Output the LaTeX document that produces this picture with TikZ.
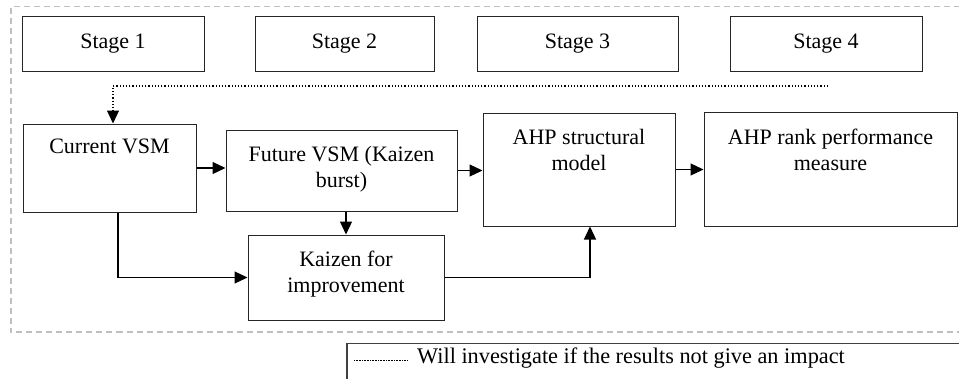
\documentclass[tikz,border=0pt]{standalone}
\usepackage{fontspec}
\setmainfont{Liberation Serif}
\usetikzlibrary{arrows.meta}
\tikzset{
  box/.style={draw=black!85, line width=1pt, rectangle, inner sep=0pt},
  txt/.style={anchor=north, inner sep=0pt, align=center, font=\fontsize{22}{26}\selectfont},
  tip/.style={-{Triangle[length=13pt,width=12pt]}},
  arr/.style={draw=black, line width=1.2pt, tip},
  frame/.style={draw=black!25, line width=1.3pt, dash pattern=on 6pt off 4pt},
}
\begin{document}
\begin{tikzpicture}[x=1pt,y=-1pt]
\useasboundingbox (0,0) rectangle (959,378);
% outer dashed frame
\draw[frame] (970,6.5) -- (11,6.5) -- (11,332) -- (970,332);
% stage boxes
\node[box, minimum width=182pt, minimum height=55pt] (s1) at (113,43.5) {\fontsize{22}{26}\selectfont Stage 1};
\node[box, minimum width=179pt, minimum height=55pt] (s2) at (344.5,43.5) {\fontsize{22}{26}\selectfont Stage 2};
\node[box, minimum width=201pt, minimum height=55pt] (s3) at (577.5,43.5) {\fontsize{22}{26}\selectfont Stage 3};
\node[box, minimum width=192pt, minimum height=55pt] (s4) at (826,43.5) {\fontsize{22}{26}\selectfont Stage 4};
% process boxes
\node[box, minimum width=173pt, minimum height=88pt] (cur) at (109.5,168) {};
\node[box, minimum width=231pt, minimum height=81pt] (fut) at (341.5,170.5) {};
\node[box, minimum width=196pt, minimum height=85pt] (kai) at (346,277.5) {};
\node[box, minimum width=192pt, minimum height=113pt] (str) at (579,169.5) {};
\node[box, minimum width=253pt, minimum height=114pt] (rnk) at (830.5,169) {};
% texts
\node[txt] (curt) at (109.5,139) {Current VSM};
\node[txt] (futt) at (341.5,146) {Future VSM (Kaizen\\burst)};
\node[txt] (kait) at (346,251) {Kaizen for\\improvement};
\node[txt] (strt) at (579,129.5) {AHP structural\\model};
\node[txt] (rnkt) at (830.5,128.5) {AHP rank performance\\measure};
% dotted feedback
\coordinate (dstart) at (828,86);
\draw[draw=black, line width=1.2pt, dotted, tip] (dstart) -| ([xshift=3.5pt]cur.north);
% connectors
\draw[arr] (cur.east) -- (cur.east -| fut.west);
\draw[arr] (fut.east) -- (fut.east -| str.west);
\draw[arr] (str.east) -- (str.east -| rnk.west);
\draw[arr] (fut.south -| kai.north) -- (kai.north);
\draw[arr] ([xshift=8.5pt]cur.south) |- (kai.west);
\draw[arr] (kai.east) -| ([xshift=11pt]str.south);
% legend box
\draw[draw=black!75, line width=1.5pt] (347,395) -- (347,343.5) -- (970,343.5);
\coordinate (la) at (354,360);
\coordinate (lb) at (408,360);
\draw[black, line width=0.8pt, dash pattern=on 0.8pt off 0.8pt] (la) -- (lb);
\node[anchor=base west, inner sep=0pt, font=\fontsize{22.3}{26}\selectfont] (leg) at (417,363) {Will investigate if the results not give an impact};
\end{tikzpicture}
\end{document}
